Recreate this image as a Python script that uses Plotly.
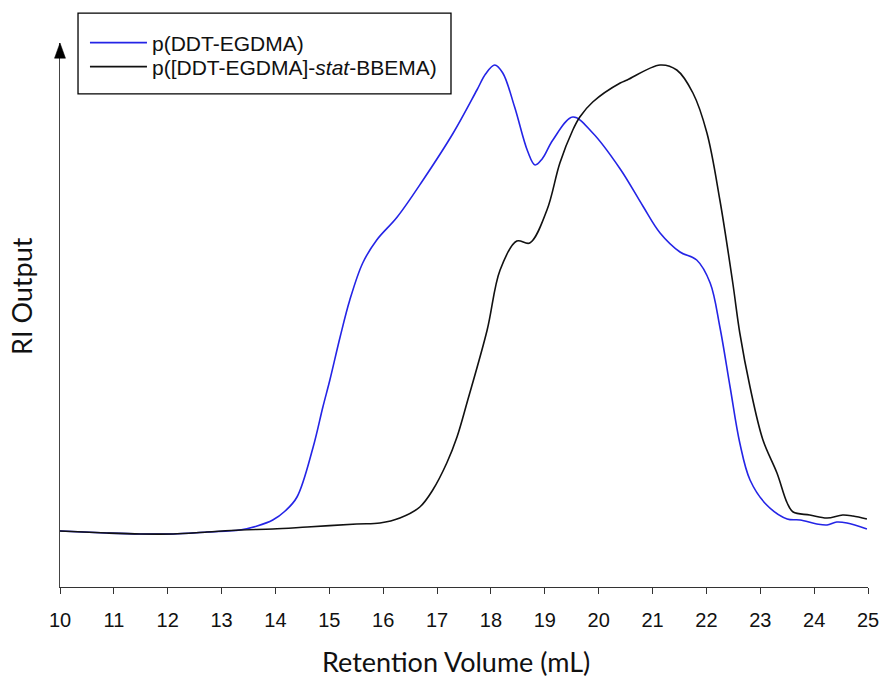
import plotly.graph_objects as go

# GPC traces: retention volume (mL) vs. refractive-index detector response (arb. units)
vol_egdma = [10.0, 10.87, 11.49, 12.10, 12.73, 13.34, 13.66, 13.95, 14.18, 14.40,
             14.70, 14.88, 15.01, 15.20, 15.38, 15.62, 15.88, 16.26, 16.74, 17.30,
             17.74, 17.90, 18.07, 18.22, 18.44, 18.68, 18.82, 18.95, 19.15, 19.52,
             19.89, 20.40, 20.82, 21.14, 21.51, 21.82, 22.07, 22.25, 22.44, 22.62,
             22.81, 23.12, 23.50, 23.74, 24.05, 24.24, 24.42, 24.61, 24.98]
ri_egdma = [5.6, 5.4, 5.3, 5.3, 5.5, 5.7, 6.1, 6.7, 7.6, 9.0,
            14.0, 18.0, 20.7, 25.0, 28.7, 32.4, 34.7, 37.0, 40.7, 45.4,
            49.7, 51.3, 52.2, 51.4, 48.0, 43.6, 42.2, 42.8, 44.7, 47.0,
            45.4, 41.8, 38.1, 35.4, 33.5, 32.7, 30.4, 26.0, 20.0, 14.4,
            10.7, 8.2, 6.8, 6.7, 6.3, 6.2, 6.5, 6.4, 5.8]

vol_stat = [10.0, 10.87, 11.49, 12.10, 12.73, 13.34, 13.95, 14.59, 15.51, 15.94,
            16.31, 16.68, 16.92, 17.18, 17.37, 17.57, 17.93, 18.17, 18.48, 18.72,
            19.04, 19.28, 19.52, 19.65, 19.89, 20.40, 20.53, 21.14, 21.45, 21.75,
            22.01, 22.25, 22.49, 22.62, 22.81, 23.05, 23.31, 23.50, 23.61, 23.92,
            24.24, 24.53, 24.72, 24.98]
ri_stat = [5.6, 5.4, 5.3, 5.3, 5.5, 5.7, 5.8, 6.0, 6.3, 6.4,
           6.9, 8.0, 9.7, 12.4, 15.0, 18.7, 25.7, 31.7, 34.6, 34.4,
           37.7, 42.4, 45.7, 47.0, 48.5, 50.4, 50.7, 52.2, 51.7, 49.4,
           45.4, 38.7, 30.4, 25.4, 20.0, 14.7, 11.4, 8.4, 7.5, 7.2,
           6.9, 7.2, 7.1, 6.8]

x_ticks = list(range(10, 26))
names = ["p(DDT-EGDMA)", "p([DDT-EGDMA]-<i>stat</i>-BBEMA)"]

fig = go.Figure()
fig.add_trace(go.Scatter(x=vol_egdma, y=ri_egdma, mode="lines", name=names[0],
                         legend="legend",
                         line=dict(color="#2424e6", width=1.6, shape="spline", smoothing=1.0)))
fig.add_trace(go.Scatter(x=vol_stat, y=ri_stat, mode="lines", name=names[1],
                         legend="legend2",
                         line=dict(color="#111111", width=1.6, shape="spline", smoothing=1.0)))

title_font = dict(family="Lato", size=27, color="#111")
legend_font = dict(family="Liberation Sans, Arial", size=21, color="#111")
legend_common = dict(x=0.0309, xanchor="left", yanchor="middle",
                     bgcolor="rgba(0,0,0,0)", borderwidth=0,
                     font=legend_font, itemwidth=57)

fig.update_layout(
    width=882, height=680,
    margin=dict(l=60, r=14, t=43, b=93),
    plot_bgcolor="white", paper_bgcolor="white",
    showlegend=True,
    legend=dict(y=1.0, **legend_common),
    legend2=dict(y=0.9559, **legend_common),
    xaxis=dict(range=[10, 25], tickvals=x_ticks, showline=True, linecolor="#333",
               linewidth=1, ticks="outside", ticklen=6, tickcolor="#333",
               ticklabelstandoff=9, automargin=False,
               showgrid=False, zeroline=False,
               tickfont=dict(family="Liberation Sans, Arial", size=20, color="#111")),
    yaxis=dict(range=[0, 54.4], showline=True, linecolor="#444", linewidth=1,
               showticklabels=False, ticks="", showgrid=False, zeroline=False,
               automargin=False),
)

# Legend frame
fig.add_shape(type="rect", xref="paper", yref="paper",
              x0=0.0223, x1=0.4839, y0=0.9063, y1=1.0551, layer="above",
              fillcolor="white", line=dict(color="black", width=1.3))

# Axis titles
fig.add_annotation(text="Retention Volume (mL)", xref="paper", yref="paper",
                   x=0.49, y=-0.1369, xanchor="center", yanchor="middle",
                   showarrow=False, font=title_font)
fig.add_annotation(text="RI Output", xref="paper", yref="paper",
                   x=-0.047, y=0.535, xanchor="center", yanchor="middle",
                   textangle=-90, showarrow=False, font=title_font)

# Arrowhead at the top of the y axis
fig.add_shape(type="path", xref="paper", yref="paper",
              path="M -0.0068 0.972 L 0.0068 0.972 L 0 1.0 Z",
              fillcolor="black", line=dict(color="black", width=0.5))

fig.write_html("out.html")
